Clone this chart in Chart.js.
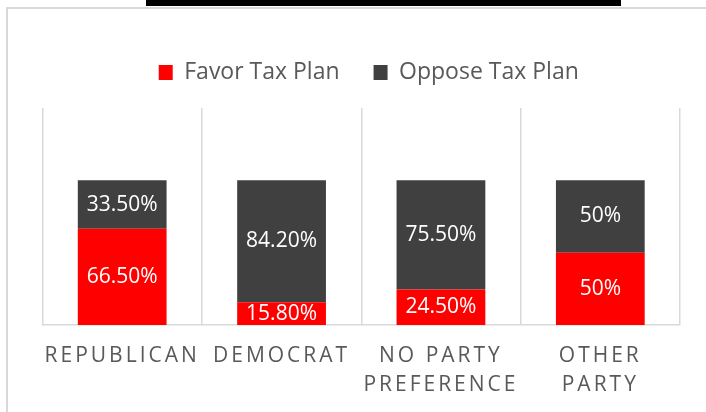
<!DOCTYPE html>
<html>
<head>
<meta charset="utf-8">
<script src="https://cdn.jsdelivr.net/npm/chart.js@4.4.1/dist/chart.umd.min.js"></script>
<style>
  html, body { margin: 0; padding: 0; background: #fff; overflow: hidden; }
  #wrap { position: relative; width: 706px; height: 412px; }
  #frame { position: absolute; left: 6px; top: 7px; width: 800px; height: 500px; border: 2px solid #d9d9d9; }
  #rule { position: absolute; left: 146px; top: 0; width: 475px; height: 6px; background: #000; }
  #grafico { position: absolute; left: 0; top: 0; }
</style>
</head>
<body>
<div id="wrap">
  <div id="frame"></div>
  <div id="rule"></div>
  <canvas id="grafico" width="706" height="412"></canvas>
</div>
<script>
// dados
const categories = [['REPUBLICAN'], ['DEMOCRAT'], ['NO PARTY', 'PREFERENCE'], ['OTHER', 'PARTY']];
const favorValues = [66.5, 15.8, 24.5, 50];
const opposeValues = [33.5, 84.2, 75.5, 50];
const seriesNames = ['Favor Tax Plan', 'Oppose Tax Plan'];
const yMax = 150;

const FONT = "'Open Sans', 'DejaVu Sans', sans-serif";

function formatPct(v) {
    return (Number.isInteger(v) ? v : v.toFixed(2)) + '%';
}

// aumenta a altura da legenda e desloca um pouco para a direita
const legendSpace = {
    id: 'legendSpace',
    beforeInit(chart) {
        const fitOrig = chart.legend.fit;
        chart.legend.fit = function () {
            fitOrig.bind(chart.legend)();
            this.height += 14;
        };
    },
    afterLayout(chart) {
        chart.legend.left += 7.5;
        chart.legend.right += 7.5;
    }
};

// rótulos de valor dentro das barras
const barLabels = {
    id: 'barLabels',
    afterDatasetsDraw(chart) {
        const ctx = chart.ctx;
        ctx.save();
        ctx.font = '21px ' + FONT;
        ctx.fillStyle = '#ffffff';
        ctx.textAlign = 'center';
        ctx.textBaseline = 'middle';
        chart.data.datasets.forEach((ds, di) => {
            chart.getDatasetMeta(di).data.forEach((bar, i) => {
                const p = bar.getProps(['x', 'y', 'base'], true);
                ctx.fillText(formatPct(ds.data[i]), p.x, (p.y + p.base) / 2);
            });
        });
        ctx.restore();
    }
};

// rótulos do eixo x com espaçamento entre letras
const xLabels = {
    id: 'xLabels',
    afterDraw(chart) {
        const ctx = chart.ctx;
        const xs = chart.scales.x;
        const bottom = chart.chartArea.bottom;
        ctx.save();
        ctx.font = '21px ' + FONT;
        ctx.fillStyle = '#595959';
        ctx.textAlign = 'center';
        ctx.textBaseline = 'middle';
        if ('letterSpacing' in ctx) ctx.letterSpacing = '3px';
        categories.forEach((lines, i) => {
            const x = xs.getPixelForValue(i);
            lines.forEach((txt, j) => {
                ctx.fillText(txt, x, bottom + 31 + j * 29);
            });
        });
        ctx.restore();
    }
};

const ctx = document.getElementById('grafico').getContext('2d');
const myChart = new Chart(ctx, {
    type: 'bar',
    data: {
        labels: categories,
        datasets: [{
            label: seriesNames[0],
            data: favorValues,
            backgroundColor: '#ff0000',
            borderWidth: 0
        }, {
            label: seriesNames[1],
            data: opposeValues,
            backgroundColor: '#404040',
            borderWidth: 0
        }]
    },
    options: {
        responsive: false,
        animation: false,
        datasets: {
            bar: { categoryPercentage: 1, barPercentage: 0.557 }
        },
        layout: {
            padding: { left: 42.5, right: 26, top: 27, bottom: 87 }
        },
        scales: {
            x: {
                stacked: true,
                grid: { display: true, offset: true, color: '#d9d9d9', lineWidth: 1.5, drawTicks: false },
                border: { display: true, color: '#d9d9d9', width: 1.5 },
                ticks: { display: false }
            },
            y: {
                stacked: true,
                display: false,
                min: 0,
                max: yMax
            }
        },
        plugins: {
            legend: {
                display: true,
                position: 'top',
                labels: {
                    font: { size: 23, family: FONT },
                    color: '#595959',
                    boxWidth: 14,
                    boxHeight: 15,
                    padding: 34
                }
            },
            tooltip: { enabled: false }
        }
    },
    plugins: [legendSpace, barLabels, xLabels]
});
</script>
</body>
</html>
